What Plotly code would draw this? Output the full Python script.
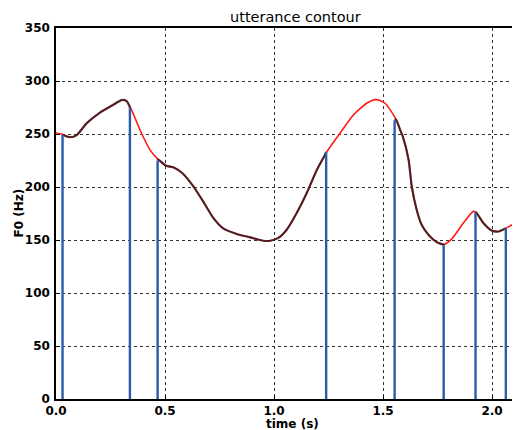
import plotly.graph_objects as go

# contour (time in s, F0 in Hz)
contour_t = [0.0, 0.026, 0.064, 0.095, 0.14, 0.2, 0.263, 0.301, 0.324, 0.343, 0.385, 0.431, 0.469,
             0.505, 0.54, 0.58, 0.63, 0.676, 0.722, 0.767, 0.829, 0.89, 0.951, 0.982, 1.02, 1.058,
             1.104, 1.15, 1.196, 1.234, 1.243, 1.303, 1.364, 1.425, 1.463, 1.486, 1.509, 1.532, 1.56,
             1.578, 1.59, 1.617, 1.632, 1.654, 1.677, 1.708, 1.746, 1.777, 1.815, 1.868, 1.914, 1.927,
             1.96, 1.998, 2.029, 2.064, 2.09, 2.113, 2.128, 2.15]
contour_f0 = [251, 250, 247, 249, 260, 270, 277.6, 282, 281, 274.5, 254, 235, 225.8,
              220, 218.5, 213, 200.6, 186, 170.7, 161, 155.7, 152.5, 149.3, 149.3, 152, 159.7,
              175.5, 194.3, 216, 230.5, 233.6, 251, 268, 279, 282.4, 281.7, 279, 273, 263.5,
              254, 248, 225.7, 200, 178.6, 164.4, 155, 148, 145.6, 151, 166, 177, 176,
              166, 159, 158, 161, 164, 161, 156, 148]

# stems (syllable boundaries)
stem_t = [0.030, 0.339, 0.466, 1.239, 1.553, 1.778, 1.924, 2.063]
stem_f0 = [249, 275, 225, 233, 263, 145, 176, 161]

x_ticks = [0.0, 0.5, 1.0, 1.5, 2.0]
y_ticks = [0, 50, 100, 150, 200, 250, 300, 350]

FONT = "DejaVu Sans"

fig = go.Figure()

# full red contour
fig.add_trace(go.Scatter(x=contour_t, y=contour_f0, mode="lines",
                         line=dict(color="#ff1a1a", width=1.6, shape="spline", smoothing=0.6),
                         showlegend=False, hoverinfo="skip"))

# dark overlay segments between stem pairs
for k in range(0, len(stem_t) - 1, 2):
    t0, t1 = stem_t[k], stem_t[k + 1]
    seg_t = [t0] + [t for t in contour_t if t0 < t < t1] + [t1]
    seg_f = [stem_f0[k]] + [f for t, f in zip(contour_t, contour_f0) if t0 < t < t1] + [stem_f0[k + 1]]
    fig.add_trace(go.Scatter(x=seg_t, y=seg_f, mode="lines",
                             line=dict(color="rgba(45,25,30,0.8)", width=2.2, shape="spline", smoothing=0.6),
                             showlegend=False, hoverinfo="skip"))

# stems
sx, sy = [], []
for t, f in zip(stem_t, stem_f0):
    sx += [t, t, None]
    sy += [0, f, None]
fig.add_trace(go.Scatter(x=sx, y=sy, mode="lines",
                         line=dict(color="#2a5caa", width=2.4),
                         showlegend=False, hoverinfo="skip"))

axis_common = dict(showline=True, linecolor="black", linewidth=1.5,
                   showgrid=True, gridcolor="#333333", griddash="dot", gridwidth=0.8,
                   ticks="inside", ticklen=4, tickcolor="black", zeroline=False, automargin=False,
                   tickfont=dict(family=FONT, size=12, color="black", weight="bold"))

fig.update_xaxes(range=[0, 2.128], tickvals=x_ticks, ticktext=[f"{v:.1f}" for v in x_ticks],
                 ticklabelstandoff=0, mirror=True, **axis_common)
fig.update_yaxes(range=[0, 350], tickvals=y_ticks, ticktext=[str(v) for v in y_ticks],
                 ticklabelstandoff=2, mirror=False, **axis_common)

# page body adds an 8px offset; figure is sized so the plot area lands on the target pixels
OFF = 8
W, H = 520 - OFF, 430 - OFF
L, R, T, B = 56 - OFF, 0, 28 - OFF, 31
PW = W - L - R
fig.update_layout(
    width=W, height=H,
    margin=dict(l=L, r=R, t=T, b=B, pad=0, autoexpand=False),
    paper_bgcolor="white", plot_bgcolor="white",
    annotations=[
        dict(text="utterance contour", xref="paper", yref="paper",
             x=(295 - 56) / PW, y=1, xanchor="center", yanchor="bottom", yshift=1,
             showarrow=False, font=dict(family=FONT, size=14.5, color="black")),
        dict(text="time (s)", xref="paper", yref="paper",
             x=(292 - 56) / PW, y=0, xanchor="center", yanchor="top", yshift=-16,
             showarrow=False, font=dict(family=FONT, size=12, color="black", weight="bold")),
        dict(text="F0 (Hz)", xref="paper", yref="paper",
             x=0, y=0.5, xanchor="right", yanchor="middle", xshift=-29, textangle=-90,
             showarrow=False, font=dict(family=FONT, size=12, color="black", weight="bold")),
    ],
)

fig.write_html("out.html")
